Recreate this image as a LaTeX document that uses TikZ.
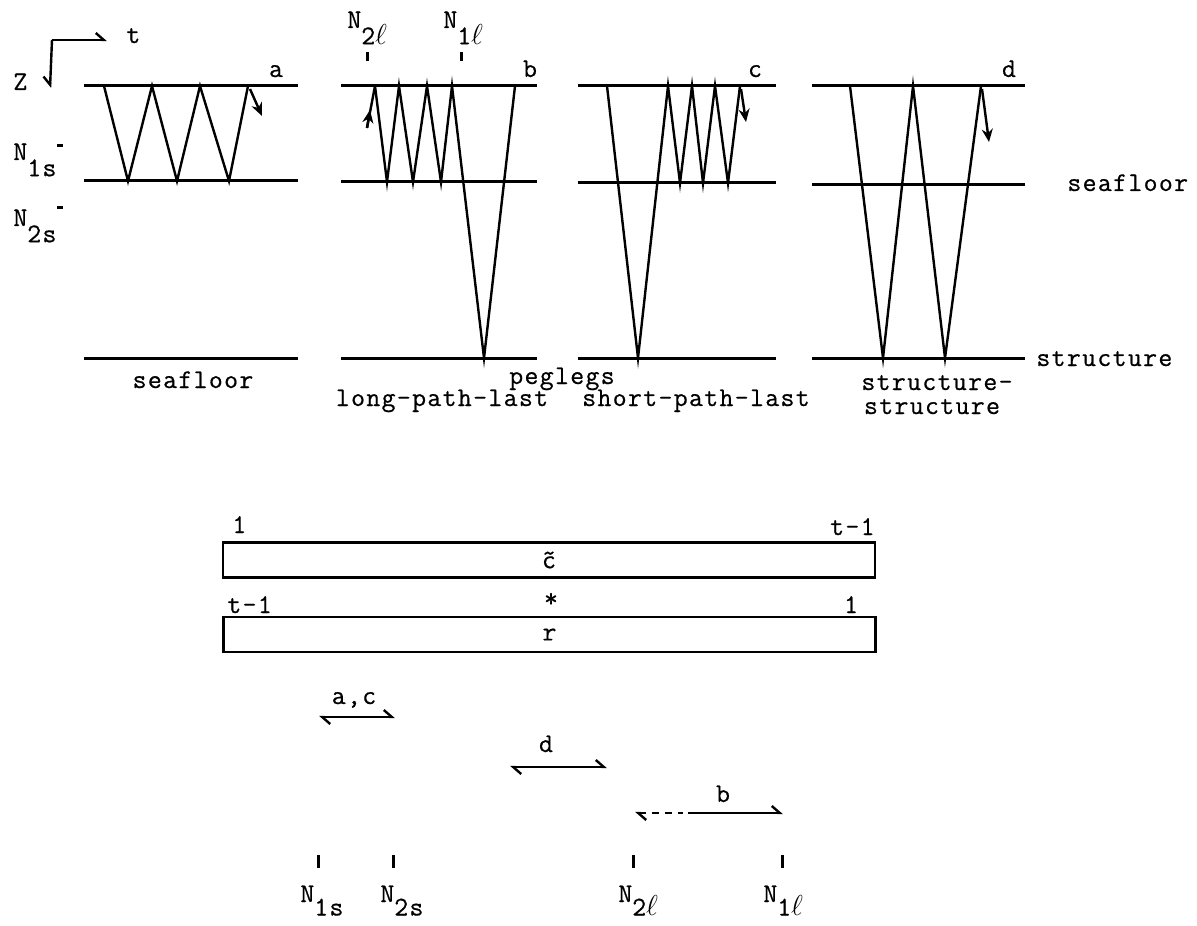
\documentclass[tikz,border=0pt]{standalone}
\usepackage{fontspec}
\setmonofont{Latin Modern Mono}[LetterSpace=5,FakeBold=0.6]
\usetikzlibrary{arrows.meta}
\newcommand{\Nsub}[1]{N\raisebox{-0.6em}{#1}}
\newcommand{\Nsubb}[1]{N\raisebox{-0.5em}{#1}}

\begin{document}
\begin{tikzpicture}[x=0.5pt,y=-0.5pt,font=\fontsize{13.5}{15}\selectfont\ttfamily,
  layer/.style={line width=1.5pt},
  ray/.style={line width=1.2pt},
  dirarr/.style={ray,-{Stealth[length=6.5pt,width=5.5pt]}},
  tickmark/.style={line width=1.5pt},
  lab/.style={inner sep=0pt,anchor=base},
  labw/.style={inner sep=0pt,anchor=base west},
  barbs/.style={line width=1.2pt,{Straight Barb[harpoon,length=4pt,width=7pt]}-{Straight Barb[harpoon,length=4pt,width=7pt]}},
  box/.style={draw,line width=1.1pt,minimum width=326pt,minimum height=17.5pt,inner sep=0pt}]
  \useasboundingbox (0,0) rectangle (1197,925);
  % axes
  \coordinate (orig) at (52,40);
  \coordinate (taxis) at (107,40);
  \coordinate (zaxis) at (50,88);
  \draw[line width=1.2pt,-{Straight Barb[harpoon,length=4pt,width=7pt]}] (orig) -- (taxis);
  \draw[line width=1.2pt,-{Straight Barb[harpoon,swap,length=4pt,width=7pt]}] (orig) -- (zaxis);
  \node[labw] (tlab) at (126,43) {t};
  \node[labw] (zlab) at (13,90) {Z};
  \node[labw] (n1s) at (13,160) {\Nsub{1s}};
  \node[labw] (n2s) at (13,226) {\Nsub{2s}};
  \draw[tickmark] (57,146) -- (63,146);
  \draw[tickmark] (57,207) -- (63,207);
  % layers: free surface, seafloor, structure
  \foreach \xl/\xr/\ys in {84/298/181,341/537/182,578/776/183,812/1025/185}{
    \draw[layer] (\xl,86) -- (\xr,86);
    \draw[layer] (\xl,\ys) -- (\xr,\ys);
    \draw[layer] (\xl,358) -- (\xr,358);
  }
  % a: seafloor multiples
  \draw[ray] (104,86) -- (128,181) -- (152,86) -- (177,181) -- (200,86) -- (229,181) -- (248,86);
  \draw[dirarr] (250,89) -- (262,116);
  \node[lab] (plab-a) at (276,77) {a};
  % b: long-path-last peglegs
  \draw[ray] (367,128) -- (375,86);
  \draw[dirarr] (367,128) -- (370,110);
  \draw[ray] (375,86) -- (387,182) -- (399,86) -- (413,182) -- (427,86) -- (441,182) -- (452,86) -- (484,358) -- (515,86);
  \node[lab] (plab-b) at (530,77) {b};
  \node[labw] (n2l-top) at (347,28) {\Nsub{2$\ell$}};
  \node[labw] (n1l-top) at (443,28) {\Nsub{1$\ell$}};
  \draw[tickmark] (367,52) -- (367,61);
  \draw[tickmark] (461,52) -- (461,61);
  % c: short-path-last peglegs
  \draw[ray] (607,86) -- (638,358) -- (668,86) -- (680,183) -- (692,86) -- (703,183) -- (715,86) -- (728,183) -- (740,86);
  \draw[dirarr] (741,89) -- (746,122);
  \node[lab] (plab-c) at (755,77) {c};
  % d: structure-structure
  \draw[ray] (850,86) -- (883,358) -- (913,86) -- (945,358) -- (981,86);
  \draw[dirarr] (982,89) -- (989,142);
  \node[lab] (plab-d) at (1009,77) {d};
  % right-hand layer names
  \node[labw] (sflab) at (1067,191) {seafloor};
  \node[labw] (stlab) at (1036,366) {structure};
  % panel captions
  \node[lab] (cap-a) at (193,388) {seafloor};
  \node[lab] (cap-peg) at (562,384) {peglegs};
  \node[lab] (cap-b) at (442,406) {long-path-last};
  \node[lab] (cap-c) at (696,406) {short-path-last};
  \node[lab] (cap-d1) at (937,390) {structure-};
  \node[lab] (cap-d2) at (932,414) {structure};
  % correlation of the two series
  \node[box] (ctil) at (549,560) {\~{c}};
  \node[box] (rser) at (549.5,634.5) {r};
  \node[lab] (conv) at (551,607) {*};
  \node[labw] (c-first) at (232,533) {1};
  \node[lab,anchor=base east] (c-last) at (875,535) {t-1};
  \node[labw] (r-first) at (227,613) {t-1};
  \node[lab] (r-last) at (851,613) {1};
  % lag ranges
  \coordinate (ac-l) at (319,717);
  \coordinate (ac-r) at (395,717);
  \draw[barbs] (ac-l) -- (ac-r);
  \node[lab] (ac-lab) at (354,704) {a,c};
  \coordinate (d-l) at (510,767);
  \coordinate (d-r) at (607,767);
  \draw[barbs] (d-l) -- (d-r);
  \node[lab] (d-lab) at (546,752) {d};
  \coordinate (b-l) at (635,813);
  \coordinate (b-m1) at (683,813);
  \coordinate (b-m2) at (688,813);
  \coordinate (b-r) at (783,813);
  \draw[line width=1.2pt,dash pattern=on 3.5pt off 3pt,{Straight Barb[harpoon,length=4pt,width=7pt]}-] (b-l) -- (b-m1);
  \draw[line width=1.2pt,-{Straight Barb[harpoon,length=4pt,width=7pt]}] (b-m2) -- (b-r);
  \node[lab] (b-lab) at (723,802) {b};
  % lag marks
  \foreach \xt in {318,393,633,782}{
    \draw[tickmark] (\xt,855) -- (\xt,868);
  }
  \node[labw] (n1s-bot) at (300,902) {\Nsubb{1s}};
  \node[labw] (n2s-bot) at (380,902) {\Nsubb{2s}};
  \node[labw] (n2l-bot) at (618,902) {\Nsubb{2$\ell$}};
  \node[labw] (n1l-bot) at (763,902) {\Nsubb{1$\ell$}};
\end{tikzpicture}
\end{document}
